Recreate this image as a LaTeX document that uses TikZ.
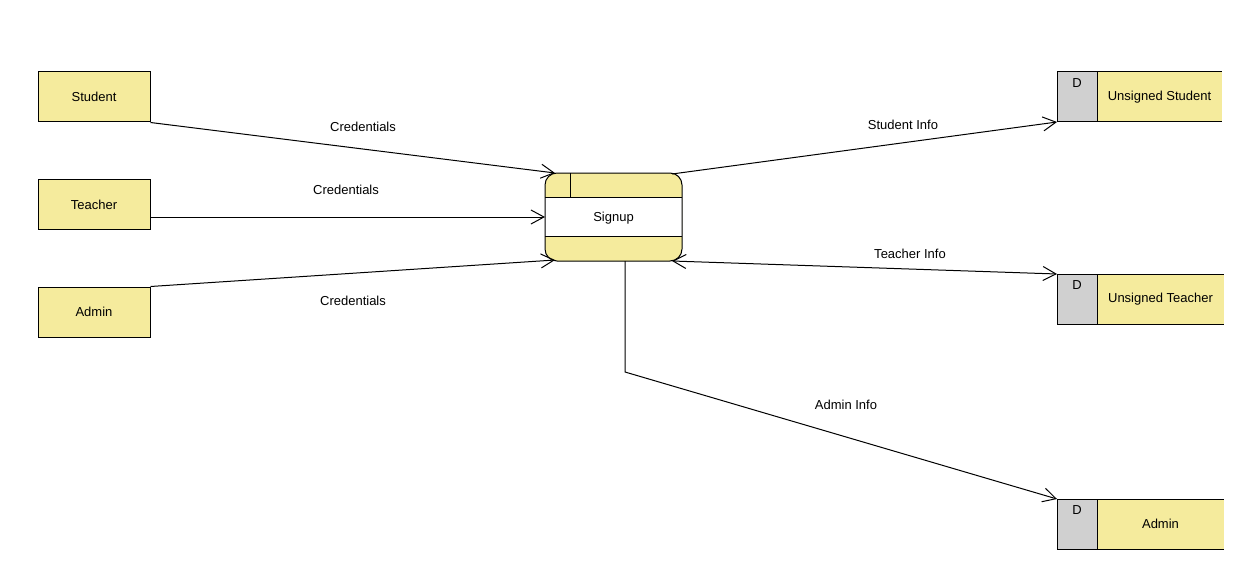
\documentclass[tikz,border=0pt]{standalone}
\usepackage{fontspec}
\setmainfont{Liberation Sans}
\usetikzlibrary{calc,arrows.meta}

\definecolor{dfdyellow}{HTML}{F5EB9D}
\definecolor{dfdgray}{HTML}{D0D0D0}

\tikzset{
	entity/.style={draw,fill=dfdyellow,minimum width=112pt,minimum height=50pt,inner sep=0pt},
	process/.style={fill=dfdyellow,rounded corners=12pt,minimum width=137pt,minimum height=88pt,inner sep=0pt,outer sep=0pt},
	dtag/.style={fill=dfdgray,minimum width=40pt,minimum height=50pt,inner sep=0pt,outer sep=0pt},
	dname/.style={fill=dfdyellow,minimum height=50pt,inner sep=0pt,outer sep=0pt,anchor=west},
	flow/.style={-{Straight Barb[length=13pt,width=14pt]}},
	lbl/.style={inner sep=0pt}
}

\begin{document}
\begin{tikzpicture}[x=1pt,y=-1pt,line width=1pt,font=\fontsize{13}{15}\selectfont]
	\useasboundingbox (0,0) rectangle (1241,567);
	% external entities
	\node[entity] (student) at (94,97) {Student};
	\node[entity] (teacher) at (94,204.5) {Teacher};
	\node[entity] (admin) at (94,312) {Admin};
	% signup process
	\node[process] (signup) at (613.5,217) {};
	\fill[white] ($(signup.north west)+(0,24)$) rectangle ($(signup.south east)+(0,-25)$);
	\draw ($(signup.north west)+(0,24)$) -- ($(signup.north east)+(0,24)$);
	\draw ($(signup.south west)+(0,-25)$) -- ($(signup.south east)+(0,-25)$);
	\draw ($(signup.north west)+(25,0)$) -- ($(signup.north west)+(25,24)$);
	\draw[rounded corners=12pt] (signup.north west) rectangle (signup.south east);
	\node (signuptxt) at ($(signup.center)+(0,1)$) {Signup};
	% data stores
	\node[dtag] (dstudent) at (1077,97) {};
	\node[dname,minimum width=125pt] (sstudent) at (dstudent.east) {Unsigned Student};
	\node[dtag] (dteacher) at (1077,299) {};
	\node[dname,minimum width=127pt] (steacher) at (dteacher.east) {Unsigned Teacher};
	\node[dtag] (dadmin) at (1077,524) {};
	\node[dname,minimum width=127pt] (sadmin) at (dadmin.east) {Admin};
	\foreach \d/\s in {dstudent/sstudent,dteacher/steacher,dadmin/sadmin}{
		\node[anchor=north,inner sep=0pt] at ($(\d.north)+(0,6)$) {D};
		\draw (\d.north west) -- (\s.north east);
		\draw (\d.south west) -- (\s.south east);
		\draw (\d.north west) rectangle (\d.south east);
	}
	% flows
	\draw[flow] (student.south east) -- ($(signup.north west)+(10,0)$);
	\draw[flow] (teacher.east |- signup.west) -- (signup.west);
	\draw[flow] (admin.north east) -- ($(signup.south west)+(10,-1)$);
	\draw[flow] ($(signup.north east)+(-10,1)$) -- (dstudent.south west);
	\draw[{Straight Barb[length=13pt,width=14pt]}-{Straight Barb[length=13pt,width=14pt]}] ($(signup.south east)+(-10,0)$) -- (dteacher.north west);
	\draw[flow] ($(signup.south)+(11.5,0)$) -- ++(0,111) -- (dadmin.north west);
	% labels
	\node[lbl] (l1) at (363,127) {Credentials};
	\node[lbl] (l2) at (346,190) {Credentials};
	\node[lbl] (l3) at (353,301) {Credentials};
	\node[lbl] (l4) at (903,125) {Student Info};
	\node[lbl] (l5) at (910,254) {Teacher Info};
	\node[lbl] (l6) at (846,405) {Admin Info};
\end{tikzpicture}
\end{document}
